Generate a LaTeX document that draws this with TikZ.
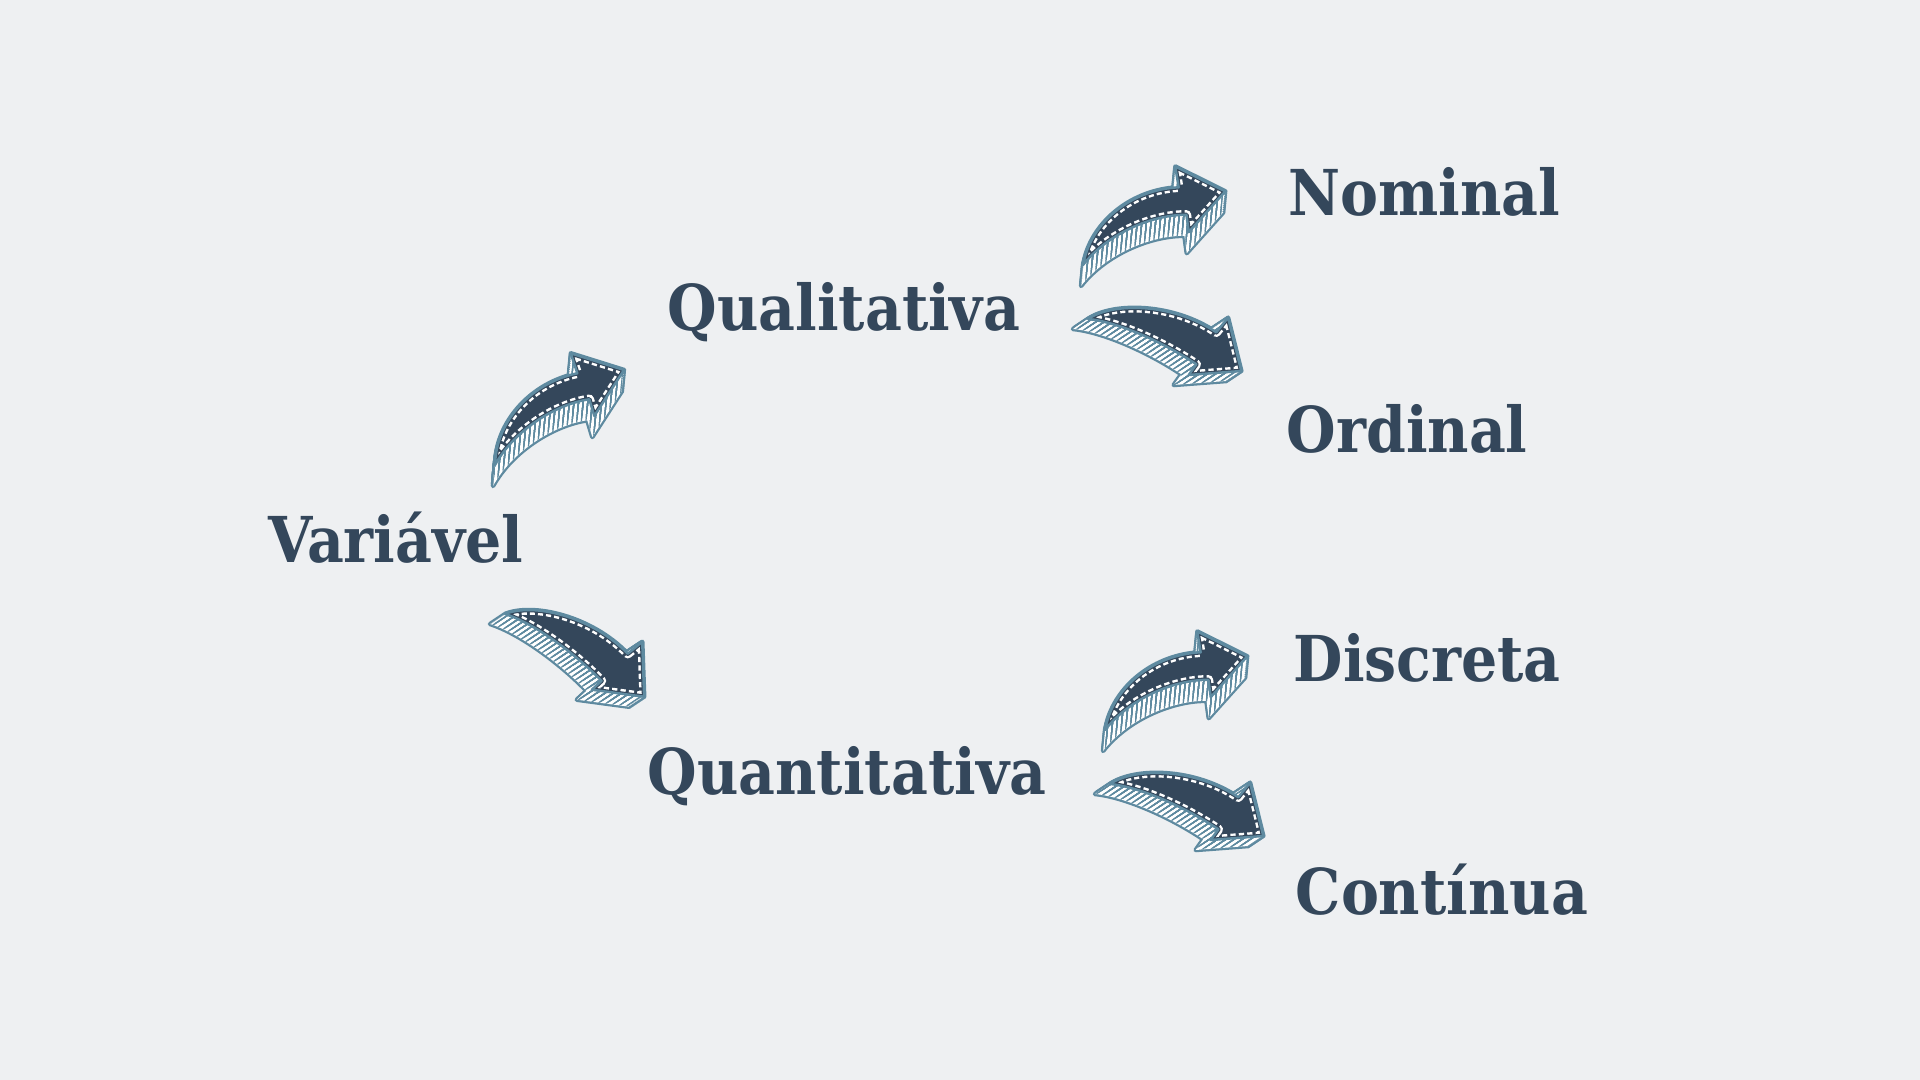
\documentclass[tikz,border=0pt]{standalone}
\usepackage{fontspec}
\newfontfamily\labelfont{DejaVu Serif Condensed}[BoldFont={DejaVu Serif Condensed Bold}]
\usepackage{tikz}
\usetikzlibrary{patterns.meta}
\definecolor{paper}{HTML}{EEF0F2}
\definecolor{slate}{HTML}{34475B}
\definecolor{rim}{HTML}{5E8AA0}
\tikzset{
    word/.style={anchor=base west, inner sep=0pt, text=slate, font=\labelfont\bfseries\fontsize{18}{20}\selectfont},
    sidestroke/.style={draw=rim, line width=1.3pt, line join=round},
    sidefill/.style={fill=white},
    hatch/.style={pattern={Lines[angle=#1, distance=1.3pt, line width=0.35pt]}, pattern color=rim},
    topface/.style={fill=slate},
    stitch/.style={draw=white, line width=2.7pt, dash pattern=on 1.5pt off 0.9pt, line join=round},
    stitchcover/.style={draw=slate, line width=1.3pt, line join=round},
    rimline/.style={draw=rim, line width=0.7pt, line join=round}
}
% outlines of the two arrow kinds, tail at the origin
\newcommand{\upoutline}{(0,0) -- (0.005,0.07) .. controls (0.04,0.45) and (0.36,0.82) .. (0.823,0.917) -- (0.757,1.117) -- (1.29,0.95) -- (0.993,0.49) -- (0.943,0.657) .. controls (0.62,0.61) and (0.2,0.36) .. cycle}
\newcommand{\downoutline}{(0,0) .. controls (0.25,0.17) and (0.85,0.16) .. (1.283,-0.133) -- (1.40,0.013) -- (1.533,-0.52) -- (1.007,-0.56) -- (1.083,-0.453) .. controls (0.75,-0.23) and (0.3,-0.03) .. cycle}
% #1 outline, #2 tail, #3 turn, #4 #5 depth
\newcommand{\blockarrow}[5]{%
    \pgfmathsetmacro{\hatchangle}{atan2(#5,#4)}
    % side face
    \foreach \k in {0,...,10}
        \path[sidestroke, shift={(#2)}, shift={({\k*#4/10},{\k*#5/10})}, rotate=#3] #1;
    \foreach \k in {0,...,10}
        \path[sidefill, shift={(#2)}, shift={({\k*#4/10},{\k*#5/10})}, rotate=#3] #1;
    \foreach \k in {0,...,10}
        \path[hatch=\hatchangle, shift={(#2)}, shift={({\k*#4/10},{\k*#5/10})}, rotate=#3] #1;
    % top face
    \begin{scope}[shift={(#2)}, rotate=#3]
        \path[topface] #1;
        \begin{scope}
            \clip #1;
            \path[stitch] #1;
            \path[stitchcover] #1;
        \end{scope}
        \path[rimline] #1;
    \end{scope}
}

\begin{document}
\begin{tikzpicture}
    \fill[paper] (0,0) rectangle (19.2,10.8);
    \useasboundingbox (0,0) rectangle (19.2,10.8);

    % Words
    \node[word] (variavel) at (2.68,5.17) {Variável};
    \node[word] (qualitativa) at (6.67,7.49) {Qualitativa};
    \node[word] (quantitativa) at (6.47,2.85) {Quantitativa};
    \node[word] (nominal) at (12.88,8.64) {Nominal};
    \node[word] (ordinal) at (12.86,6.27) {Ordinal};
    \node[word] (discreta) at (12.93,3.98) {Discreta};
    \node[word] (continua) at (12.95,1.65) {Contínua};

    % Arrows
    \blockarrow{\upoutline}{4.95,6.15}{0}{-0.02}{-0.21}
    \blockarrow{\downoutline}{5.05,4.66}{-12}{-0.15}{-0.10}
    \blockarrow{\upoutline}{10.83,8.15}{-9}{-0.02}{-0.21}
    \blockarrow{\downoutline}{10.88,7.61}{0}{-0.15}{-0.10}
    \blockarrow{\upoutline}{11.05,3.50}{-9}{-0.02}{-0.21}
    \blockarrow{\downoutline}{11.10,2.96}{0}{-0.15}{-0.10}
\end{tikzpicture}
\end{document}
